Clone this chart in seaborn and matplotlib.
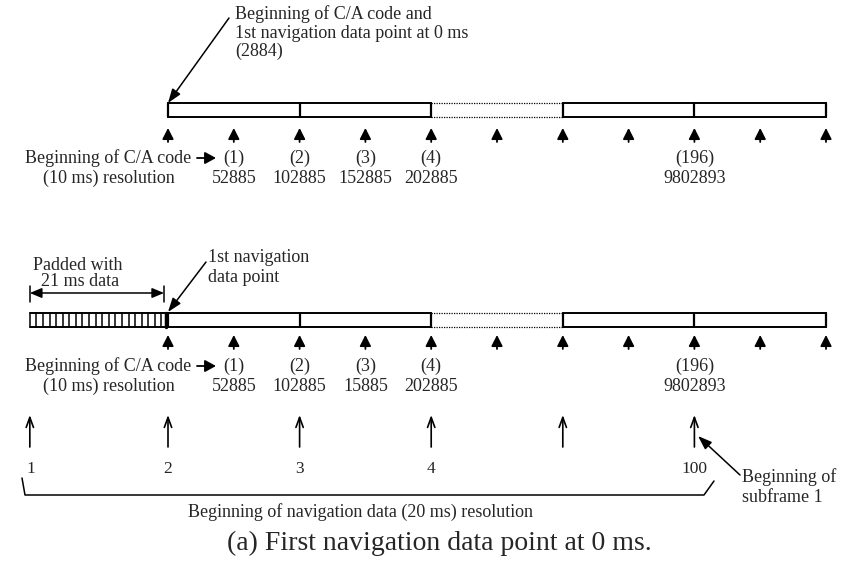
import matplotlib
matplotlib.use("Agg")
import matplotlib.pyplot as plt
import seaborn as sns

# timeline data, in ms from the first navigation data point
segment_edges = [0, 20, 40, 60, 80, 100]
dotted_segment = 2
ca_ticks = [0, 10, 20, 30, 40, 50, 60, 70, 80, 90, 100]
ca_label_ms = [10, 20, 30, 40, 80]
ca_index = ["(1)", "(2)", "(3)", "(4)", "(196)"]
ca_points_top = ["52885", "102885", "152885", "202885", "9802893"]
ca_points_bottom = ["52885", "102885", "15885", "202885", "9802893"]
pad_ms = 21
nav_ticks = [-21, 0, 20, 40, 60, 80]
nav_labels = ["1", "2", "3", "4", "", "100"]

PX_PER_MS = 6.58
X0 = 168  # pixel of 0 ms


def px(x):
    # pixel column -> ms
    return (x - X0) / PX_PER_MS


sns.set_theme(style="white")
plt.rcParams["font.family"] = ["Liberation Serif", "DejaVu Serif"]

fig = plt.figure(figsize=(8.46, 5.69), dpi=100)
ax = fig.add_axes([0, 0, 1, 1])
ax.set_xlim(px(0), px(846))
ax.set_ylim(569, 0)
ax.axis("off")

FS = 13


def small_arrow(x, tip, tail):
    ax.annotate("", xy=(x, tip), xytext=(x, tail),
                arrowprops=dict(arrowstyle="-|>,head_length=0.55,head_width=0.28",
                                color="black", lw=1.3, shrinkA=0, shrinkB=0))


def pointer(x0, y0, x1, y1):
    ax.annotate("", xy=(x1, y1), xytext=(x0, y0),
                arrowprops=dict(arrowstyle="-|>,head_length=0.7,head_width=0.25",
                                color="black", lw=1.1, shrinkA=0, shrinkB=0))


def draw_bar(y_top, y_bot):
    for i in range(len(segment_edges) - 1):
        a, b = segment_edges[i], segment_edges[i + 1]
        if i == dotted_segment:
            ax.plot([a, b], [y_top, y_top], color="black", lw=0.9, ls=(0, (1, 1)))
            ax.plot([a, b], [y_bot, y_bot], color="black", lw=0.9, ls=(0, (1, 1)))
        else:
            ax.plot([a, b], [y_top, y_top], color="black", lw=1.4)
            ax.plot([a, b], [y_bot, y_bot], color="black", lw=1.4)
    for e in segment_edges:
        ax.plot([e, e], [y_top, y_bot], color="black", lw=1.6)


def ca_row(tick_tip, tick_tail, y1, y2, numbers):
    for t in ca_ticks:
        small_arrow(t, tick_tip, tick_tail)
    ax.text(px(25), y1, "Beginning of C/A code", fontsize=FS, ha="left", va="center")
    ax.annotate("", xy=(px(216), y1), xytext=(px(197), y1),
                arrowprops=dict(arrowstyle="-|>,head_length=0.55,head_width=0.3",
                                color="black", lw=1.3, shrinkA=0, shrinkB=0))
    ax.text(px(109), y2, "(10 ms) resolution", fontsize=FS, ha="center", va="center")
    for t, idx, num in zip(ca_label_ms, ca_index, numbers):
        ax.text(t, y1, idx, fontsize=FS, ha="center", va="center")
        ax.text(t, y2, num, fontsize=FS, ha="center", va="center")


# ---- top: first navigation data point at 0 ms
ax.text(px(235), 14, "Beginning of C/A code and", fontsize=FS, ha="left", va="center")
ax.text(px(235), 33, "1st navigation data point at 0 ms", fontsize=FS, ha="left", va="center")
ax.text(px(235), 51, "(2884)", fontsize=FS, ha="left", va="center")
pointer(px(229), 18, 0, 103)
draw_bar(103, 117)
ca_row(128, 142, 158, 178, ca_points_top)

# ---- bottom: padded with 21 ms data
ax.text(px(78), 265, "Padded with", fontsize=FS, ha="center", va="center")
ax.text(px(80), 281, "21 ms data", fontsize=FS, ha="center", va="center")
ax.annotate("", xy=(-pad_ms, 293), xytext=(-0.6, 293),
            arrowprops=dict(arrowstyle="<|-|>,head_length=0.6,head_width=0.25",
                            color="black", lw=1.1, shrinkA=0, shrinkB=0))
ax.plot([-pad_ms, -pad_ms], [286, 302], color="black", lw=1.1)
ax.plot([-0.6, -0.6], [286, 302], color="black", lw=1.1)
ax.text(px(208), 257, "1st navigation", fontsize=FS, ha="left", va="center")
ax.text(px(208), 277, "data point", fontsize=FS, ha="left", va="center")
pointer(px(206), 262, 0, 312)

draw_bar(313, 327)
ax.plot([-pad_ms, 0], [313, 313], color="black", lw=1.4)
ax.plot([-pad_ms, 0], [327, 327], color="black", lw=1.4)
for k in range(pad_ms):
    ax.plot([-pad_ms + k, -pad_ms + k], [313, 327], color="black", lw=1.1)
ax.plot([-0.3, -0.3], [313, 327], color="black", lw=2.5)

ca_row(335, 349, 366, 386, ca_points_bottom)

# navigation data (20 ms) arrows
for t, lab in zip(nav_ticks, nav_labels):
    ax.annotate("", xy=(t, 415), xytext=(t, 447),
                arrowprops=dict(arrowstyle="->,head_length=0.6,head_width=0.22",
                                color="black", lw=1.2, shrinkA=0, shrinkB=0))
    if lab:
        ax.text(t + (0.2 if t == nav_ticks[0] else 0), 469, lab, fontsize=12.5,
                ha="center", va="center")

ax.plot([px(22), px(25), px(704), px(714)], [478, 495, 495, 481], color="black", lw=1.1)
ax.text(px(361), 512, "Beginning of navigation data (20 ms) resolution",
        fontsize=13, ha="center", va="center")
ax.text(px(742), 477, "Beginning of", fontsize=13, ha="left", va="center")
ax.text(px(742), 497, "subframe 1", fontsize=13, ha="left", va="center")
pointer(px(740), 475, px(698), 436)

ax.text(px(439), 543, "(a) First navigation data point at 0 ms.", fontsize=20,
        ha="center", va="center")

fig.savefig("out.png", dpi=100)
